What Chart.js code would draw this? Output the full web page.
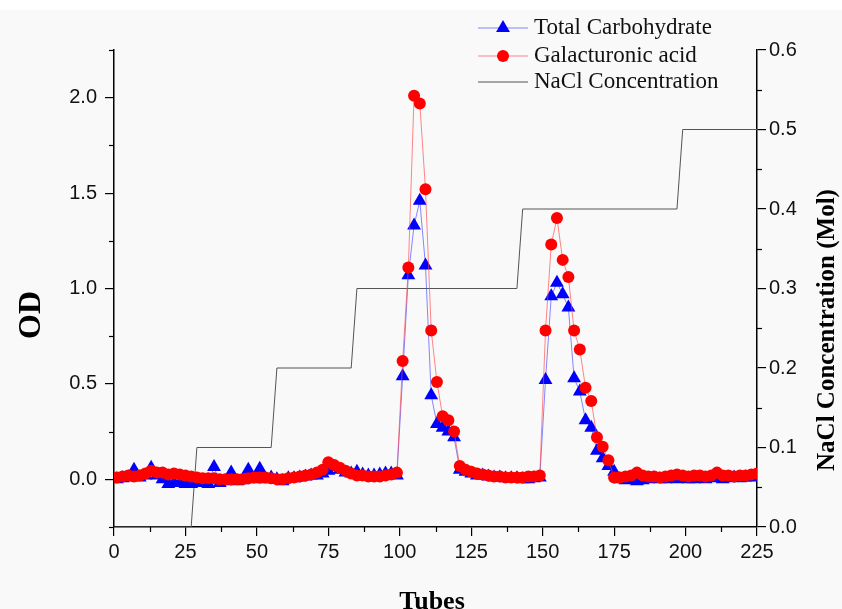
<!DOCTYPE html>
<html><head><meta charset="utf-8">
<script src="https://cdn.jsdelivr.net/npm/chart.js@4"></script>
<style>html,body{margin:0;padding:0;background:#f9f9f9;overflow:hidden}canvas{display:block}</style>
</head><body>
<canvas id="c" width="842" height="609"></canvas>
<script>
// ---- data ----
const tubes = [1,3,5,7,9,11,13,15,17,19,21,23,25,27,29,31,33,35,37,39,41,43,45,47,49,51,53,55,57,59,
  61,63,65,67,69,71,73,75,77,79,81,83,85,87,89,91,93,95,97,99,101,103,105,107,109,111,113,115,117,119,
  121,123,125,127,129,131,133,135,137,139,141,143,145,147,149,151,153,155,157,159,161,163,165,167,169,171,173,175,177,179,
  181,183,185,187,189,191,193,195,197,199,201,203,205,207,209,211,213,215,217,219,221,223,225];
const galacturonic = [
  0.01,0.015,0.02,0.015,0.02,0.03,0.045,0.035,0.035,0.025,
  0.03,0.025,0.02,0.015,0.01,0.005,0.005,0.005,0.0,0.0,
  0.0,0.0,0.0,0.005,0.01,0.01,0.01,0.005,0.0,0.0,
  0.005,0.01,0.015,0.02,0.025,0.035,0.05,0.09,0.075,0.06,
  0.045,0.03,0.02,0.02,0.015,0.015,0.015,0.02,0.025,0.035,
  0.62,1.11,2.01,1.97,1.52,0.78,0.51,0.33,0.31,0.25,
  0.07,0.05,0.04,0.03,0.025,0.02,0.015,0.015,0.01,0.01,
  0.01,0.01,0.015,0.015,0.02,0.78,1.23,1.37,1.15,1.06,
  0.78,0.68,0.48,0.41,0.22,0.17,0.10,0.01,0.01,0.015,
  0.02,0.035,0.02,0.015,0.015,0.01,0.015,0.02,0.025,0.02,
  0.015,0.02,0.02,0.015,0.02,0.035,0.02,0.02,0.015,0.02,
  0.02,0.025,0.03];
const totalCarbohydrate = [
  0.0,0.005,0.01,0.05,0.01,0.02,0.06,0.02,0.0,-0.025,
  -0.02,-0.02,-0.025,-0.025,-0.02,-0.01,-0.025,0.065,-0.02,-0.01,
  0.035,-0.01,-0.005,0.05,0.0,0.055,0.0,0.01,0.0,-0.01,
  0.005,0.005,0.01,0.015,0.02,0.02,0.03,0.045,0.065,0.05,
  0.035,0.03,0.04,0.025,0.02,0.02,0.025,0.03,0.03,0.02,
  0.54,1.07,1.33,1.46,1.12,0.44,0.29,0.27,0.25,0.22,
  0.05,0.04,0.03,0.02,0.02,0.015,0.01,0.01,0.005,0.005,
  0.005,0.0,0.0,0.005,0.01,0.52,0.96,1.03,0.97,0.90,
  0.53,0.46,0.31,0.27,0.15,0.11,0.07,0.04,0.0,-0.005,
  0.0,-0.01,-0.005,0.0,0.005,0.0,0.0,0.005,0.0,0.005,
  0.0,0.0,0.005,0.0,0.005,0.01,0.0,0.005,0.01,0.005,
  0.01,0.01,0.015];
const naclTubes = [0,27,29,55,57,83,85,141,143,197,199,225];
const naclConc  = [0,0,0.1,0.1,0.2,0.2,0.3,0.3,0.4,0.4,0.5,0.5];
const xTicks = [0,25,50,75,100,125,150,175,200,225];
const odTicks = [0,0.5,1.0,1.5,2.0];
const naclTicks = [0,0.1,0.2,0.3,0.4,0.5,0.6];
const seriesLabels = ['Total Carbohydrate','Galacturonic acid','NaCl Concentration'];
const axisTitles = {x:'Tubes', y:'OD', y1:'NaCl Concentration (Mol)'};

// ---- styling ----
const SANS = '"Liberation Sans", Arial, sans-serif';
const SERIF = '"Liberation Serif", "Times New Roman", serif';
const BLUE = '#0000ff', RED = '#ff0000', GRAY = '#555555';

function mids(arr){ const out=[]; for(let i=0;i<arr.length-1;i++) out.push((arr[i]+arr[i+1])/2); return out; }

const decor = {
  id:'decor',
  beforeDraw(chart){
    const {ctx,width,height}=chart;
    ctx.save();
    ctx.fillStyle='#ffffff'; ctx.fillRect(0,0,width,10);
    ctx.fillStyle='#f9f9f9'; ctx.fillRect(0,10,width,height-10);
    ctx.restore();
  },
  afterDraw(chart){
    const ctx=chart.ctx, s=chart.scales;
    ctx.save();
    ctx.strokeStyle='#000'; ctx.lineWidth=1.2;
    const L=5;
    // minor ticks
    mids(xTicks).forEach(v=>{ const p=Math.round(s.x.getPixelForValue(v))+0.5; ctx.beginPath(); ctx.moveTo(p,s.x.top); ctx.lineTo(p,s.x.top+L); ctx.stroke(); });
    [-0.25].concat(mids(odTicks), [2.25]).forEach(v=>{ const p=Math.round(s.y.getPixelForValue(v))+0.5; ctx.beginPath(); ctx.moveTo(s.y.right-L,p); ctx.lineTo(s.y.right,p); ctx.stroke(); });
    mids(naclTicks).forEach(v=>{ const p=Math.round(s.y1.getPixelForValue(v))+0.5; ctx.beginPath(); ctx.moveTo(s.y1.left,p); ctx.lineTo(s.y1.left+L,p); ctx.stroke(); });
    // axis titles
    ctx.fillStyle='#000';
    ctx.textAlign='center'; ctx.textBaseline='middle';
    ctx.font='bold 32px '+SERIF;
    ctx.save(); ctx.translate(32,315); ctx.rotate(-Math.PI/2); ctx.fillText(axisTitles.y,0,0); ctx.restore();
    ctx.font='bold 25px '+SERIF;
    ctx.save(); ctx.translate(828,330); ctx.rotate(-Math.PI/2); ctx.fillText(axisTitles.y1,0,0); ctx.restore();
    ctx.font='bold 26px '+SERIF;
    ctx.textBaseline='alphabetic';
    ctx.fillText(axisTitles.x,432,609);
    // legend
    const ds=chart.data.datasets;
    const items=[ds[1],ds[0],ds[2]];
    const ys=[28,56,82];
    ctx.font='23px '+SERIF; ctx.textAlign='left'; ctx.textBaseline='middle';
    items.forEach((d,i)=>{
      const y=ys[i];
      ctx.strokeStyle=d.borderColor; ctx.lineWidth=1.2;
      ctx.beginPath(); ctx.moveTo(478,y); ctx.lineTo(528,y); ctx.stroke();
      ctx.fillStyle=d.pointBackgroundColor||d.borderColor;
      if(d.pointStyle==='triangle'){
        const r=8; ctx.beginPath();
        ctx.moveTo(503,y-r); ctx.lineTo(503+r*0.866,y+r*0.5); ctx.lineTo(503-r*0.866,y+r*0.5); ctx.closePath(); ctx.fill();
      } else if(d.pointRadius>0){
        ctx.beginPath(); ctx.arc(503,y,6,0,Math.PI*2); ctx.fill();
      }
      ctx.fillStyle='#111'; ctx.fillText(d.label,534,y);
    });
    ctx.restore();
  }
};

const tickFont={family:SANS,size:20};
const gridOpts={display:true,drawOnChartArea:false,drawTicks:true,tickLength:9,color:'#000',lineWidth:1.2};
const borderOpts={display:true,color:'#000',width:1.5};

new Chart(document.getElementById('c'),{
  type:'line',
  data:{datasets:[
    {label:seriesLabels[1], data:tubes.map((t,i)=>({x:t,y:galacturonic[i]})), yAxisID:'y',
     borderColor:'rgba(255,70,70,0.65)', borderWidth:1, pointStyle:'circle', pointRadius:6,
     pointBackgroundColor:RED, pointBorderColor:RED, pointBorderWidth:0, order:0},
    {label:seriesLabels[0], data:tubes.map((t,i)=>({x:t,y:totalCarbohydrate[i]})), yAxisID:'y',
     borderColor:'rgba(70,70,255,0.65)', borderWidth:1, pointStyle:'triangle', pointRadius:8,
     pointBackgroundColor:BLUE, pointBorderColor:BLUE, pointBorderWidth:0, order:1},
    {label:seriesLabels[2], data:naclTubes.map((t,i)=>({x:t,y:naclConc[i]})), yAxisID:'y1',
     borderColor:GRAY, borderWidth:1, pointRadius:0, order:2}
  ]},
  options:{
    responsive:false, animation:false, devicePixelRatio:1,
    layout:{padding:{top:50,left:0,right:0,bottom:0}},
    plugins:{legend:{display:false},tooltip:{enabled:false}},
    scales:{
      x:{type:'linear',position:'bottom',min:0,max:225,
        afterBuildTicks:s=>{s.ticks=xTicks.map(v=>({value:v}));},
        afterFit:s=>{s.height=82;},
        grid:gridOpts,border:borderOpts,
        ticks:{font:tickFont,color:'#111',padding:4,maxRotation:0,autoSkip:false,callback:v=>String(v)}},
      y:{type:'linear',position:'left',min:-0.25,max:2.25,
        afterBuildTicks:s=>{s.ticks=odTicks.map(v=>({value:v}));},
        afterFit:s=>{s.width=114;},
        grid:gridOpts,border:borderOpts,
        ticks:{font:tickFont,color:'#111',padding:8,callback:v=>Number(v).toFixed(1)}},
      y1:{type:'linear',position:'right',min:0,max:0.6,
        afterBuildTicks:s=>{s.ticks=naclTicks.map(v=>({value:v}));},
        afterFit:s=>{s.width=85;},
        grid:gridOpts,border:borderOpts,
        ticks:{font:tickFont,color:'#111',padding:3,callback:v=>Number(v).toFixed(1)}}
    }
  },
  plugins:[decor]
});
</script>
</body></html>
